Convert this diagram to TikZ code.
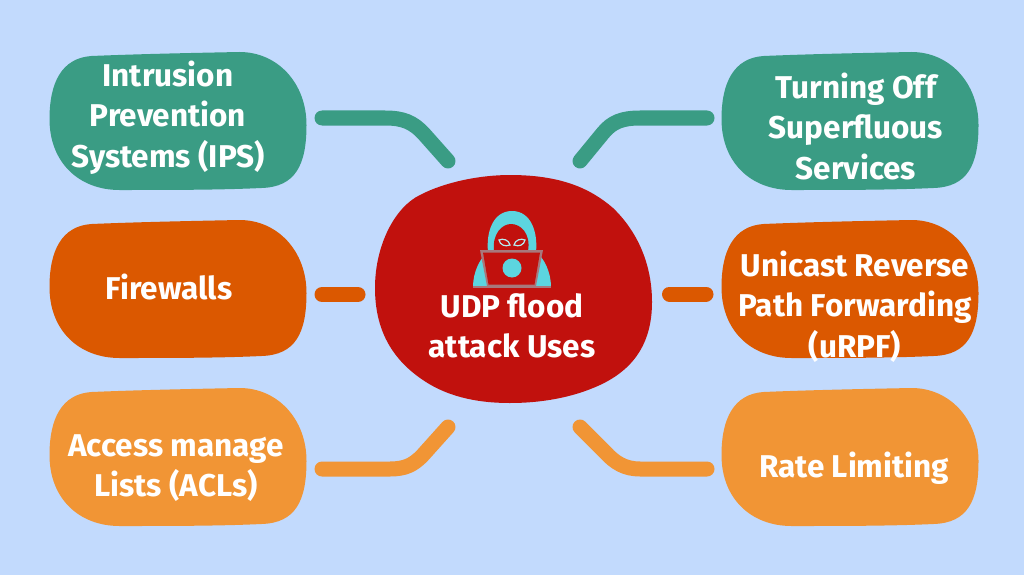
\documentclass[tikz,border=0pt]{standalone}
\usepackage{fontspec}
\setmainfont{Fira Sans}
\definecolor{bg}{HTML}{C2DAFD}
\definecolor{grn}{HTML}{3A9C84}
\definecolor{dor}{HTML}{DB5800}
\definecolor{lor}{HTML}{F19535}
\definecolor{crd}{HTML}{C1110D}
\definecolor{cyn}{HTML}{5CD5DF}
\definecolor{frm}{HTML}{A8787C}
\tikzset{
  lbl/.style={text=white,font=\fontsize{31.5}{40.5}\selectfont\bfseries,align=center,inner sep=0pt},
  conn/.style={line width=15pt,line cap=round,line join=round},
}
\newcommand{\blobb}[3]{\fill[#3,shift={(#1,#2)}] (0,66) .. controls (0,30) and (12,5) .. (42,3) .. controls (90,1) and (140,0) .. (190,-1) .. controls (228,-1) and (257,30) .. (257,72) .. controls (257,112) and (246,134) .. (212,135) .. controls (170,137) and (120,137) .. (70,137) .. controls (30,137) and (0,110) .. (0,66) -- cycle;}
\begin{document}
\begin{tikzpicture}[x=1pt,y=-1pt]
\useasboundingbox (0,0) rectangle (1024,575);
\fill[bg] (0,0) rectangle (1024,575);
% boxes
\blobb{49.5}{53}{grn}
\blobb{721.5}{53}{grn}
\blobb{49.5}{221}{dor}
\blobb{721.5}{221}{dor}
\blobb{49.5}{389}{lor}
\blobb{721.5}{389}{lor}
% centre
\fill[crd] (375,288) .. controls (375,245) and (395,207) .. (420,195) .. controls (445,182) and (480,175) .. (510,175) .. controls (560,175) and (590,188) .. (613,208) .. controls (638,232) and (652,265) .. (652,302) .. controls (652,345) and (632,370) .. (600,385) .. controls (572,398) and (540,403) .. (510,403) .. controls (475,403) and (445,396) .. (420,378) .. controls (392,358) and (375,330) .. (375,288) -- cycle;
% icon
\fill[cyn] (473,287) .. controls (473,272) and (480,258) .. (488,252) .. controls (486,232) and (493,211) .. (512,211) .. controls (531,211) and (538,232) .. (536,252) .. controls (544,258) and (551,272) .. (551,287) -- cycle;
\fill[crd] (494,251) .. controls (492,234) and (502,224) .. (511,224) .. controls (521,224) and (531,234) .. (528,251) -- cycle;
\fill[frm] (473,285.5) rectangle (551,287.5);
\fill[frm] (480,250) -- (543,250) -- (536,286) -- (487,286) -- cycle;
\fill[crd] (483,252.5) -- (540,252.5) -- (534.5,284.5) -- (488.5,284.5) -- cycle;
\fill[cyn] (512,268) circle (9.5);
\draw[cyn!45!white,line width=1.2pt,fill=crd] (499,240) .. controls (503,238) and (509,240) .. (510,245) .. controls (505,247) and (500,245) .. (499,240) -- cycle;
\draw[cyn!45!white,line width=1.2pt,fill=crd] (525,240) .. controls (521,238) and (515,240) .. (514,245) .. controls (519,247) and (524,245) .. (525,240) -- cycle;
% connectors
\coordinate (c1a) at (322,118);\coordinate (c1b) at (448,161);
\coordinate (c2a) at (707,118);\coordinate (c2b) at (580,161);
\coordinate (c3a) at (322,294.5);\coordinate (c3b) at (358,294.5);
\coordinate (c4a) at (669.5,294);\coordinate (c4b) at (706,294);
\coordinate (c5a) at (322,469);\coordinate (c5b) at (448,427);
\coordinate (c6a) at (707,469);\coordinate (c6b) at (580,427);
\draw[conn,grn] (c1a) -- (385,118) .. controls (403,118) and (413,122) .. (424,134) -- (c1b);
\draw[conn,grn] (c2a) -- (640,118) .. controls (622,118) and (612,122) .. (603,133) -- (c2b);
\draw[conn,dor] (c3a) -- (c3b);
\draw[conn,dor] (c4a) -- (c4b);
\draw[conn,lor] (c5a) -- (390,469) .. controls (405,469) and (413,465) .. (422,456) -- (c5b);
\draw[conn,lor] (c6a) -- (640,469) .. controls (625,469) and (615,463) .. (605,452) -- (c6b);
% labels
\node[lbl] (t1) at (168,117.5) {Intrusion\\Prevention\\Systems (IPS)};
\node[lbl] (t2) at (856,126) {Turning Off\\Superfluous\\Services};
\node[lbl] (t3) at (169,287) {Firewalls};
\node[lbl] (t4) at (855,306.5) {Unicast Reverse\\Path Forwarding\\(uRPF)};
\node[lbl] (t5) at (176,468) {Access manage\\Lists (ACLs)};
\node[lbl] (t6) at (854,468) {Rate Limiting};
\node[lbl] (tc) at (512,326) {UDP flood\\attack Uses};
\end{tikzpicture}
\end{document}
